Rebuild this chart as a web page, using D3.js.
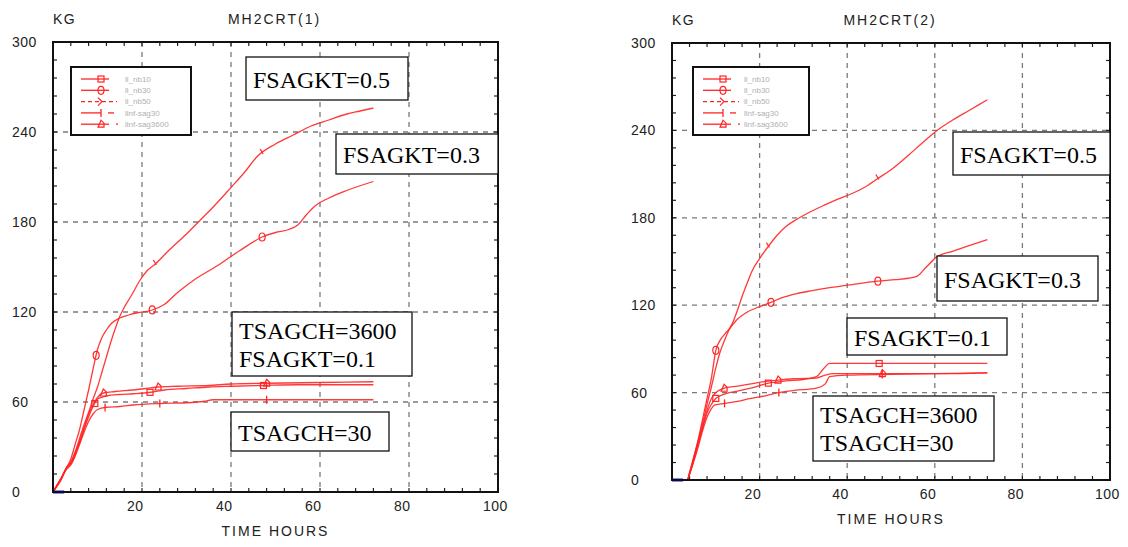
<!DOCTYPE html>
<html>
<head>
<meta charset="utf-8">
<script src="https://cdn.jsdelivr.net/npm/d3@7"></script>
<style>
  body { margin: 0; background: #fff; }
  svg { display: block; }
</style>
</head>
<body>
<script>
// data, [hours, kg]
var xTicks = [20, 40, 60, 80, 100];
var yTicks = [0, 60, 120, 180, 240, 300];
var legendNames = ["ll_nb10", "ll_nb30", "ll_nb50", "llnf-sag30", "llnf-sag3600"];

var left_nb10 = [[0,0],[1,5],[2,10],[3,16],[4,19],[5,25],[6,33],[7,42],[8,50],[9,57],[10,62],[12,64],[15,65],[18,65.5],[22,66.5],[25,68],[30,69],[35,70],[40,70.5],[47,71],[55,71.5],[65,71.5],[72,71.5]];
var left_nb30 = [[0,0],[1,5],[2,10],[3,16],[4,22],[5,32],[6,42],[7,55],[8,68],[9,82],[10,95],[11,103],[12,108],[13,112],[15,116],[17,118],[19,119.5],[22,121],[25,125],[28,133],[32,142],[37,151],[42,161],[47,170],[50,173],[53,175],[55,178],[57,185],[59,191],[62,196],[66,201],[72,207]];
var left_nb50 = [[0,0],[1,4],[2,9],[3,16],[4,20],[5,27],[6,36],[7,45],[8,53],[9,62],[10,70],[11,80],[12,90],[13,100],[14,109],[15,117],[16,123],[17,128],[18,133],[19.5,141],[21,147],[23,152],[26,161],[30,172],[33,181],[36,190],[40,203],[43,213],[46,224],[50,232],[54,238],[58,244],[62,248],[66,252],[69,254],[72,256]];
var left_sag30 = [[0,0],[1,5],[2,10],[3,15],[4,18],[5,24],[6,32],[7,40],[8,47],[9,52],[10,55],[12,56.5],[15,57],[18,58],[24,59],[30,59.5],[34,60.5],[36,61.5],[45,61.5],[60,61.5],[72,61.5]];
var left_sag3600 = [[0,0],[1,5],[2,10],[3,16],[4,19],[5,26],[6,34],[7,43],[8,52],[9,58],[10,63],[11.3,66],[14,67],[18,68],[21,69],[23.6,70],[28,70.5],[35,71],[40,72],[48,72.5],[60,73],[72,73.5]];

var right_nb10 = [[0,0],[3.5,0],[4,4],[5,14],[6,25],[7,36],[8,46],[9,52],[10,56],[12,59],[15,61],[18,63],[22,66.5],[26,68],[30,69],[33,71],[34.5,76],[36,80],[40,80],[47,80],[55,80],[65,80],[72,80]];
var right_nb30 = [[0,0],[3.5,0],[4,5],[5,16],[6,28],[7,42],[8,56],[9,70],[10,89],[11,96],[12,100],[13.2,104],[14.8,110],[17,115],[20,119],[22.6,122],[25,125],[28.5,128],[32,130],[36,132],[40.6,134],[47,136.5],[51,137.5],[54,138.5],[56,140],[58,146],[60.4,153],[64,157],[68,161],[72,165]];
var right_nb50 = [[0,0],[3.5,0],[4,5],[5,16],[6,27],[7,39],[8,52],[9,64],[10,77],[11,88],[12,96],[13,103],[14,109],[15,117],[16,126],[17.4,137],[18.2,143],[20,152],[22.4,162],[24,168],[26,174],[28.5,179],[31.5,184],[35,189],[38,193],[40.6,196],[44,201],[47,207],[50,213],[54,223],[57,231],[60.5,240],[64,247],[68,254],[72,261]];
var right_sag30 = [[0,0],[3.5,0],[4,4],[5,13],[6,23],[7,34],[8,43],[9,49],[9.8,51.5],[12,52.6],[15,54],[18,56],[20,57],[24.4,60],[28,61.5],[33,63],[35,66],[36,71],[40,72],[50,72.5],[60,73],[72,73.5]];
var right_sag3600 = [[0,0],[3.5,0],[4,4],[5,14],[6,25],[7,37],[8,48],[9,56],[10,60],[11.9,63],[15,64.5],[18,66],[21,67.5],[24.2,68.6],[28,69.5],[33,70],[35,72],[37,73],[45,73],[55,73],[65,73],[72,73.5]];

// hours where the plot symbols sit
var left_marks = { nb10: [9.4, 21.8, 47.3], nb30: [9.7, 22.3, 47], nb50: [23, 47], sag30: [11.7, 24, 48], sag3600: [11.3, 23.6, 48] };
var right_marks = { nb10: [10, 22, 47.3], nb30: [10, 22.6, 47], nb50: [22, 47], sag30: [12, 24.4, 48], sag3600: [11.9, 24.2, 48] };
var startMark = [[0,0],[2.5,0]];

var W = 1128, H = 547;
var RED = "#ff2424";

var svg = d3.select("body").append("svg")
  .attr("width", W)
  .attr("height", H);

// draws one symbol at (px,py)
function symbol(g, kind, px, py) {
  if (kind == "nb10") {
    g.append("rect").attr("x", px - 3).attr("y", py - 3).attr("width", 6).attr("height", 6)
      .attr("fill", "none").attr("stroke", RED).attr("stroke-width", 1.2);
  } else if (kind == "nb30") {
    g.append("ellipse").attr("cx", px).attr("cy", py).attr("rx", 3).attr("ry", 4)
      .attr("fill", "none").attr("stroke", RED).attr("stroke-width", 1.2);
  } else if (kind == "nb50") {
    g.append("path").attr("d", "M" + (px - 2) + "," + (py - 4) + "L" + (px + 1) + "," + (py + 1))
      .attr("stroke", RED).attr("stroke-width", 1.2);
  } else if (kind == "sag30") {
    g.append("path").attr("d", "M" + px + "," + (py - 4) + "V" + (py + 4))
      .attr("stroke", RED).attr("stroke-width", 1.3);
  } else {
    g.append("path").attr("d", "M" + (px - 3) + "," + (py + 3) + "H" + (px + 3) + "V" + (py - 1) + "L" + px + "," + (py - 4) + "Z")
      .attr("fill", "none").attr("stroke", RED).attr("stroke-width", 1.2);
  }
}

function interp(data, t) {
  for (var i = 1; i < data.length; i++) {
    if (data[i][0] >= t) {
      var a = data[i - 1], b = data[i];
      return a[1] + (b[1] - a[1]) * (t - a[0]) / (b[0] - a[0]);
    }
  }
  return data[data.length - 1][1];
}

function drawPanel(p) {
  var x = d3.scaleLinear().domain([0, 100]).range([p.left, p.right]);
  var y = d3.scaleLinear().domain([0, 300]).range([p.bottom, p.top]);
  var g = svg.append("g");

  // grid
  g.selectAll(".gx").data([20, 40, 60, 80]).enter().append("line")
    .attr("x1", function(d) { return x(d); }).attr("x2", function(d) { return x(d); })
    .attr("y1", p.top).attr("y2", p.bottom)
    .attr("stroke", "#7a7a7a").attr("stroke-width", 1.3).attr("stroke-dasharray", "5,5");
  g.selectAll(".gy").data([60, 120, 180, 240]).enter().append("line")
    .attr("y1", function(d) { return y(d); }).attr("y2", function(d) { return y(d); })
    .attr("x1", p.left).attr("x2", p.right)
    .attr("stroke", "#7a7a7a").attr("stroke-width", 1.3).attr("stroke-dasharray", "5,5");

  // inner ticks on all four sides
  var tx = d3.range(4, 100, 4), ty = d3.range(12, 300, 12);
  var tk = g.append("g").attr("stroke", "#222").attr("stroke-width", 1.2);
  tx.forEach(function(d) {
    tk.append("line").attr("x1", x(d)).attr("x2", x(d)).attr("y1", p.top).attr("y2", p.top + 4);
    tk.append("line").attr("x1", x(d)).attr("x2", x(d)).attr("y1", p.bottom).attr("y2", p.bottom - 4);
  });
  ty.forEach(function(d) {
    tk.append("line").attr("y1", y(d)).attr("y2", y(d)).attr("x1", p.left).attr("x2", p.left + 4);
    tk.append("line").attr("y1", y(d)).attr("y2", y(d)).attr("x1", p.right).attr("x2", p.right - 4);
  });

  // curves
  var line = d3.line().curve(d3.curveMonotoneX)
    .x(function(d) { return x(d[0]); }).y(function(d) { return y(d[1]); });
  var series = [["nb10", p.nb10], ["nb30", p.nb30], ["nb50", p.nb50], ["sag30", p.sag30], ["sag3600", p.sag3600]];
  var cg = g.append("g");
  series.forEach(function(s) {
    cg.append("path").datum(s[1]).attr("d", line)
      .attr("fill", "none").attr("stroke", RED).attr("stroke-width", 1.3).attr("stroke-opacity", 0.9);
    p.marks[s[0]].forEach(function(t) {
      symbol(cg, s[0], x(t), y(interp(s[1], t)));
    });
  });
  g.append("path").datum(startMark).attr("d", line)
    .attr("stroke", "#1010e0").attr("stroke-width", 3);

  // frame
  g.append("rect").attr("x", p.left).attr("y", p.top)
    .attr("width", p.right - p.left).attr("height", p.bottom - p.top)
    .attr("fill", "none").attr("stroke", "#111").attr("stroke-width", 2);

  // axis text
  var sans = "'Liberation Sans', Arial, sans-serif";
  g.selectAll(".yl").data(yTicks).enter().append("text")
    .attr("x", p.left - 41).attr("y", function(d) { return y(d); })
    .attr("dy", "0.35em").attr("font-family", sans).attr("font-size", 14)
    .attr("letter-spacing", 0.5).attr("fill", "#222")
    .text(function(d) { return d; });
  g.selectAll(".xl").data(xTicks).enter().append("text")
    .attr("x", function(d) { return x(d) - 15; }).attr("y", p.bottom + 14)
    .attr("dy", "0.35em").attr("font-family", sans).attr("font-size", 14)
    .attr("letter-spacing", 0.5).attr("fill", "#222")
    .text(function(d) { return d; });
  g.append("text").attr("x", (p.left + p.right) / 2).attr("y", p.bottom + 39)
    .attr("dy", "0.35em").attr("text-anchor", "middle").attr("font-family", sans)
    .attr("font-size", 14).attr("letter-spacing", 2).attr("fill", "#222").text("TIME HOURS");
  g.append("text").attr("x", p.left).attr("y", p.top - 23)
    .attr("dy", "0.35em").attr("font-family", sans)
    .attr("font-size", 14).attr("letter-spacing", 1.5).attr("fill", "#222").text("KG");
  g.append("text").attr("x", (p.left + p.right) / 2 - 1).attr("y", p.top - 23)
    .attr("dy", "0.35em").attr("text-anchor", "middle").attr("font-family", sans)
    .attr("font-size", 14).attr("letter-spacing", 2).attr("fill", "#222").text(p.title);

  // legend
  var lg = g.append("g").attr("transform", "translate(" + p.legX + "," + p.legY + ")");
  lg.append("rect").attr("width", p.legW).attr("height", 68)
    .attr("fill", "#fff").attr("stroke", "#111").attr("stroke-width", 2);
  legendNames.forEach(function(name, i) {
    var ry = 12 + i * 11.3;
    var l0 = 10, l1 = 38, mx = 30;
    if (i == 2) {
      lg.append("line").attr("x1", l0).attr("x2", 46).attr("y1", ry).attr("y2", ry)
        .attr("stroke", RED).attr("stroke-width", 1.3).attr("stroke-dasharray", "4,3");
      lg.append("path").attr("d", "M" + (mx - 3) + "," + (ry - 4) + "L" + (mx + 1) + "," + ry + "L" + (mx - 3) + "," + (ry + 4))
        .attr("fill", "none").attr("stroke", RED).attr("stroke-width", 1.2);
    } else if (i == 3) {
      lg.append("line").attr("x1", l0).attr("x2", mx).attr("y1", ry).attr("y2", ry)
        .attr("stroke", RED).attr("stroke-width", 1.3);
      lg.append("line").attr("x1", 37).attr("x2", 43).attr("y1", ry).attr("y2", ry)
        .attr("stroke", RED).attr("stroke-width", 1.3);
      symbol(lg, "sag30", mx, ry);
    } else if (i == 4) {
      lg.append("line").attr("x1", l0).attr("x2", l1).attr("y1", ry).attr("y2", ry)
        .attr("stroke", RED).attr("stroke-width", 1.3);
      lg.append("line").attr("x1", 45).attr("x2", 47).attr("y1", ry).attr("y2", ry)
        .attr("stroke", RED).attr("stroke-width", 1.3);
      symbol(lg, "sag3600", mx, ry);
    } else {
      lg.append("line").attr("x1", l0).attr("x2", l1).attr("y1", ry).attr("y2", ry)
        .attr("stroke", RED).attr("stroke-width", 1.3);
      symbol(lg, i == 0 ? "nb10" : "nb30", mx, ry);
    }
    lg.append("text").attr("x", p.legText).attr("y", ry).attr("dy", "0.35em")
      .attr("font-family", sans).attr("font-size", 8).attr("fill", "#b0b0b0").text(name);
  });

  // annotation boxes
  p.notes.forEach(function(n) {
    var ng = g.append("g").attr("transform", "translate(" + (p.left + n.x) + "," + (p.top + n.y) + ")");
    ng.append("rect").attr("width", n.w).attr("height", n.h)
      .attr("fill", "#fff").attr("stroke", "#111").attr("stroke-width", 1.3);
    n.lines.forEach(function(t, k) {
      ng.append("text").attr("x", 7)
        .attr("y", n.lines.length == 1 ? n.h / 2 + 9 : 27 + k * 28)
        .attr("font-family", "'Liberation Serif', 'Times New Roman', serif")
        .attr("font-size", 24).attr("fill", "#000").text(t);
    });
  });
}

drawPanel({
  left: 53, right: 498, top: 42, bottom: 492, title: "MH2CRT(1)",
  nb10: left_nb10, nb30: left_nb30, nb50: left_nb50, sag30: left_sag30, sag3600: left_sag3600,
  marks: left_marks,
  legX: 71, legY: 67, legW: 120, legText: 54,
  notes: [
    { x: 193, y: 15, w: 162, h: 43, lines: ["FSAGKT=0.5"] },
    { x: 283, y: 92, w: 162, h: 40, lines: ["FSAGKT=0.3"] },
    { x: 179, y: 270, w: 180, h: 64, lines: ["TSAGCH=3600", "FSAGKT=0.1"] },
    { x: 178, y: 370, w: 158, h: 39, lines: ["TSAGCH=30"] }
  ]
});

drawPanel({
  left: 672, right: 1110, top: 43, bottom: 480, title: "MH2CRT(2)",
  nb10: right_nb10, nb30: right_nb30, nb50: right_nb50, sag30: right_sag30, sag3600: right_sag3600,
  marks: right_marks,
  legX: 693, legY: 67, legW: 116, legText: 51,
  notes: [
    { x: 281, y: 89, w: 157, h: 43, lines: ["FSAGKT=0.5"] },
    { x: 265, y: 213, w: 161, h: 45, lines: ["FSAGKT=0.3"] },
    { x: 175, y: 275, w: 160, h: 37, lines: ["FSAGKT=0.1"] },
    { x: 141, y: 353, w: 181, h: 65, lines: ["TSAGCH=3600", "TSAGCH=30"] }
  ]
});
</script>
</body>
</html>
